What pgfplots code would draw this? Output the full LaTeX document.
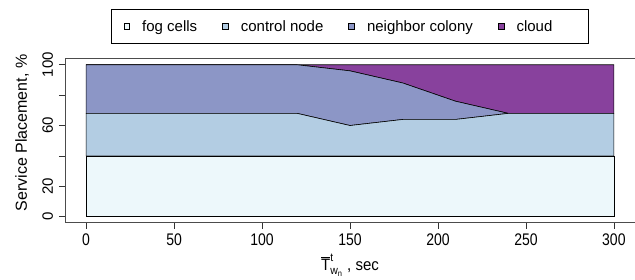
\documentclass[border=0pt]{standalone}
\usepackage{amsmath}
\usepackage{graphicx}
\usepackage{pgfplots}
\pgfplotsset{compat=1.18}
\usepackage{fontspec}
\setmainfont{Liberation Sans}
\definecolor{cfog}{HTML}{EDF8FB}
\definecolor{cctl}{HTML}{B3CDE3}
\definecolor{cnb}{HTML}{8C96C6}
\definecolor{ccl}{HTML}{88419D}
\begin{document}
\begin{tikzpicture}
\begin{axis}[
  scale only axis, width=570pt, height=164pt,
  xmin=-12, xmax=312, ymin=-4, ymax=104,
  axis line style={black!70, line width=0.8pt},
  xtick={0,50,...,300}, ytick={0,20,...,100}, yticklabels={0,20,,60,,100},
  tick align=outside, major tick length=6pt, tick pos=left,
  tick style={black!80, line width=0.6pt},
  /pgf/number format/assume math mode=true,
  font=\fontsize{15}{18}\selectfont,
  xticklabel={\scalebox{1}[1.2]{\fontsize{14}{16}\selectfont\pgfmathprintnumber{\tick}}},
  yticklabel style={rotate=90, anchor=base, yshift=6pt},
  xticklabel style={yshift=-2pt},
  stack plots=y,
  ylabel={Service Placement, \%},
  ylabel style={at={(axis description cs:-0.0667,0.547)}, anchor=base, font=\fontsize{16}{19}\selectfont},
  xlabel={\scalebox{1}[1.1]{$\overline{\text{T}}^{\text{t}}_{\text{w}_\text{n}}$ , sec}},
  xlabel style={at={(axis description cs:0.5,-0.2945)}, anchor=base},
  legend columns=4,
  legend style={at={(0.5,1.304)}, anchor=north, draw=black, line width=0.6pt, fill=white,
    font=\fontsize{15}{18}\selectfont, inner ysep=9pt, inner xsep=12pt,
    nodes={inner xsep=0pt},
    /tikz/every odd column/.append style={column sep=12.5pt},
    /tikz/every even column/.append style={column sep=25pt}},
  legend image code/.code={\draw[#1,draw=black,line width=0.5pt] (0pt,-2.8pt) rectangle (5.6pt,2.8pt);},
]
\addplot[fill=cfog, draw=black, line width=0.6pt] coordinates {(0,40) (120,40) (150,40) (180,40) (210,40) (240,40) (300,40)} \closedcycle;
\addlegendentry{fog cells}
\addplot[fill=cctl, draw=black, line width=0.6pt] coordinates {(0,28) (120,28) (150,20) (180,24) (210,24) (240,28) (300,28)} \closedcycle;
\addlegendentry{control node}
\addplot[fill=cnb, draw=black, line width=0.6pt] coordinates {(0,32) (120,32) (150,36) (180,24) (210,12) (240,0) (300,0)} \closedcycle;
\addlegendentry{neighbor colony}
\addplot[fill=ccl, draw=black, line width=0.6pt] coordinates {(0,0) (120,0) (150,4) (180,12) (210,24) (240,32) (300,32)} \closedcycle;
\addlegendentry{cloud\hspace*{24pt}}
\end{axis}
\pgfresetboundingbox
\useasboundingbox (-65pt,-56.3pt) rectangle (570pt,222.7pt);
\end{tikzpicture}
\end{document}
